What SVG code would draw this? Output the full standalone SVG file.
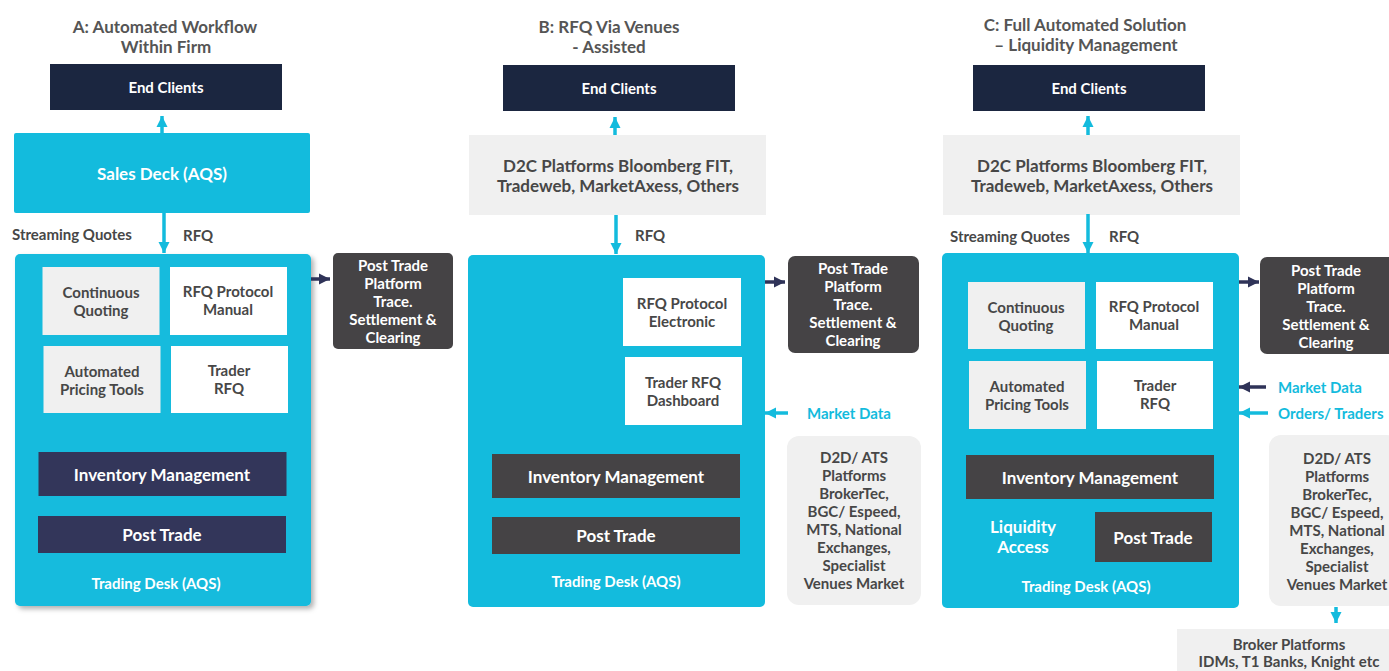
<svg xmlns="http://www.w3.org/2000/svg" width="1389" height="671" viewBox="0 0 1389 671">
<defs>
<style>
text{font-family:Lato,"Open Sans","Liberation Sans",sans-serif;font-weight:700;text-anchor:middle}
.title{font-size:17px;fill:#555555}
.navy{fill:#1b2640}
.cyan{fill:#13bbdd}
.lg{fill:#f0f0f0}
.wh{fill:#ffffff}
.dk{fill:#454345}
.pur{fill:#33365a}
.t14w{font-size:15px;fill:#ffffff}
.t16w{font-size:17px;fill:#ffffff}
.t14d{font-size:15px;fill:#474747}
.t16d{font-size:17px;fill:#474747}
.t14c{font-size:15px;fill:#13bbdd;text-anchor:start}
.lbl{font-size:15px;fill:#474747;text-anchor:start}
.ac{stroke:#13bbdd;stroke-width:3.5;fill:none}
.an{stroke:#2f3358;stroke-width:3.5;fill:none}
</style>
<marker id="hc" viewBox="0 0 10 10" refX="10" refY="5" markerUnits="userSpaceOnUse" markerWidth="11" markerHeight="13" orient="auto"><path d="M0,0 L10,5 L0,10 z" fill="#13bbdd"/></marker>
<marker id="hn" viewBox="0 0 10 10" refX="10" refY="5" markerUnits="userSpaceOnUse" markerWidth="11" markerHeight="13" orient="auto"><path d="M0,0 L10,5 L0,10 z" fill="#2f3358"/></marker>
<filter id="sh" x="-5%" y="-5%" width="115%" height="115%"><feDropShadow dx="3" dy="3" stdDeviation="2.5" flood-color="#000" flood-opacity="0.3"/></filter>
</defs>

<!-- Column titles -->
<g id="titles">
<text class="title" x="165" y="33">A: Automated Workflow</text>
<text class="title" x="166" y="53">Within Firm</text>
<text class="title" x="609" y="33">B: RFQ Via Venues</text>
<text class="title" x="609" y="53">- Assisted</text>
<text class="title" x="1085" y="31">C: Full Automated Solution</text>
<text class="title" x="1086" y="51">– Liquidity Management</text>
</g>

<!-- Column A -->
<g id="a-end-clients"><rect class="navy" x="50" y="64" width="232" height="46"/><text class="t14w" x="166" y="93">End Clients</text></g>
<g id="a-sales-deck"><rect class="cyan" x="14" y="133" width="296" height="80" rx="2"/><text class="t16w" x="162" y="180">Sales Deck (AQS)</text></g>
<g id="a-trading-desk"><rect class="cyan" x="15" y="254" width="296" height="352" rx="5" filter="url(#sh)"/><text class="t14w" x="156" y="589">Trading Desk (AQS)</text></g>
<g id="a-continuous"><rect class="lg" x="42.5" y="267" width="117" height="68"/><text class="t14d" x="101" y="298">Continuous</text><text class="t14d" x="101" y="316">Quoting</text></g>
<g id="a-rfq-manual"><rect class="wh" x="170" y="267" width="117" height="68"/><text class="t14d" x="228" y="297">RFQ Protocol</text><text class="t14d" x="228" y="315">Manual</text></g>
<g id="a-auto-pricing"><rect class="lg" x="43.5" y="346" width="117" height="67"/><text class="t14d" x="102" y="377">Automated</text><text class="t14d" x="102" y="395">Pricing Tools</text></g>
<g id="a-trader-rfq"><rect class="wh" x="171" y="346" width="117" height="67"/><text class="t14d" x="229" y="376">Trader</text><text class="t14d" x="229" y="394">RFQ</text></g>
<g id="a-inventory"><rect class="pur" x="38.5" y="452" width="248" height="44"/><text class="t16w" x="162" y="481">Inventory Management</text></g>
<g id="a-post-trade"><rect class="pur" x="38" y="516" width="248" height="37"/><text class="t16w" x="162" y="541">Post Trade</text></g>
<g id="a-post-platform"><rect class="dk" x="333" y="253" width="120" height="96" rx="5"/>
<text class="t14w" x="393" y="271">Post Trade</text><text class="t14w" x="393" y="289">Platform</text><text class="t14w" x="393" y="307">Trace.</text><text class="t14w" x="393" y="325">Settlement &amp;</text><text class="t14w" x="393" y="343">Clearing</text></g>

<!-- Column B -->
<g id="b-end-clients"><rect class="navy" x="503" y="65" width="232" height="46"/><text class="t14w" x="619" y="94">End Clients</text></g>
<g id="b-d2c"><rect class="lg" x="469" y="135" width="297" height="80"/><text class="t16d" x="618" y="172">D2C Platforms Bloomberg FIT,</text><text class="t16d" x="618" y="192">Tradeweb, MarketAxess, Others</text></g>
<g id="b-trading-desk"><rect class="cyan" x="468" y="255" width="297" height="352" rx="5"/><text class="t14w" x="616" y="587">Trading Desk (AQS)</text></g>
<g id="b-rfq-electronic"><rect class="wh" x="623" y="278" width="118" height="68"/><text class="t14d" x="682" y="309">RFQ Protocol</text><text class="t14d" x="682" y="327">Electronic</text></g>
<g id="b-trader-dashboard"><rect class="wh" x="625" y="357" width="117" height="68"/><text class="t14d" x="683" y="388">Trader RFQ</text><text class="t14d" x="683" y="406">Dashboard</text></g>
<g id="b-inventory"><rect class="dk" x="492" y="454" width="248" height="44"/><text class="t16w" x="616" y="483">Inventory Management</text></g>
<g id="b-post-trade"><rect class="dk" x="492" y="517" width="248" height="37"/><text class="t16w" x="616" y="542">Post Trade</text></g>
<g id="b-post-platform"><rect class="dk" x="788" y="256" width="131" height="97" rx="7"/>
<text class="t14w" x="853" y="274">Post Trade</text><text class="t14w" x="853" y="292">Platform</text><text class="t14w" x="853" y="310">Trace.</text><text class="t14w" x="853" y="328">Settlement &amp;</text><text class="t14w" x="853" y="346">Clearing</text></g>
<g id="b-d2d"><rect class="lg" x="787" y="436" width="134" height="169" rx="12"/>
<text class="t14d" x="854" y="463">D2D/ ATS</text><text class="t14d" x="854" y="481">Platforms</text><text class="t14d" x="854" y="499">BrokerTec,</text><text class="t14d" x="854" y="517">BGC/ Espeed,</text><text class="t14d" x="854" y="535">MTS, National</text><text class="t14d" x="854" y="553">Exchanges,</text><text class="t14d" x="854" y="571">Specialist</text><text class="t14d" x="854" y="589">Venues Market</text></g>

<!-- Column C -->
<g id="c-end-clients"><rect class="navy" x="973" y="65" width="232" height="46"/><text class="t14w" x="1089" y="94">End Clients</text></g>
<g id="c-d2c"><rect class="lg" x="943" y="135" width="297" height="80"/><text class="t16d" x="1092" y="172">D2C Platforms Bloomberg FIT,</text><text class="t16d" x="1092" y="192">Tradeweb, MarketAxess, Others</text></g>
<g id="c-trading-desk"><rect class="cyan" x="942" y="253" width="297" height="355" rx="5"/><text class="t14w" x="1086" y="592">Trading Desk (AQS)</text>
<text class="t16w" x="1023" y="533">Liquidity</text><text class="t16w" x="1023" y="553">Access</text></g>
<g id="c-continuous"><rect class="lg" x="968" y="282" width="117" height="67"/><text class="t14d" x="1026" y="313">Continuous</text><text class="t14d" x="1026" y="331">Quoting</text></g>
<g id="c-rfq-manual"><rect class="wh" x="1096" y="282" width="117" height="67"/><text class="t14d" x="1154" y="312">RFQ Protocol</text><text class="t14d" x="1154" y="330">Manual</text></g>
<g id="c-auto-pricing"><rect class="lg" x="969" y="361" width="117" height="68"/><text class="t14d" x="1027" y="392">Automated</text><text class="t14d" x="1027" y="410">Pricing Tools</text></g>
<g id="c-trader-rfq"><rect class="wh" x="1097" y="361" width="116" height="68"/><text class="t14d" x="1155" y="391">Trader</text><text class="t14d" x="1155" y="409">RFQ</text></g>
<g id="c-inventory"><rect class="dk" x="966" y="455" width="248" height="44"/><text class="t16w" x="1090" y="484">Inventory Management</text></g>
<g id="c-post-trade"><rect class="dk" x="1095" y="512" width="117" height="50"/><text class="t16w" x="1153" y="544">Post Trade</text></g>
<g id="c-post-platform"><rect class="dk" x="1260" y="257" width="135" height="97" rx="7"/>
<text class="t14w" x="1326" y="276">Post Trade</text><text class="t14w" x="1326" y="294">Platform</text><text class="t14w" x="1326" y="312">Trace.</text><text class="t14w" x="1326" y="330">Settlement &amp;</text><text class="t14w" x="1326" y="348">Clearing</text></g>
<g id="c-d2d"><rect class="lg" x="1269" y="435" width="130" height="171" rx="12"/>
<text class="t14d" x="1337" y="464">D2D/ ATS</text><text class="t14d" x="1337" y="482">Platforms</text><text class="t14d" x="1337" y="500">BrokerTec,</text><text class="t14d" x="1337" y="518">BGC/ Espeed,</text><text class="t14d" x="1337" y="536">MTS, National</text><text class="t14d" x="1337" y="554">Exchanges,</text><text class="t14d" x="1337" y="572">Specialist</text><text class="t14d" x="1337" y="590">Venues Market</text></g>
<g id="c-broker"><rect class="lg" x="1177" y="629" width="220" height="50"/><text class="t14d" x="1289" y="650">Broker Platforms</text><text class="t14d" x="1289" y="667">IDMs, T1 Banks, Knight etc</text></g>

<!-- Connectors -->
<g id="connectors">
<line class="ac" x1="162" y1="133" x2="162" y2="116" marker-end="url(#hc)"/>
<line class="ac" x1="164" y1="213" x2="164" y2="253" marker-end="url(#hc)"/>
<line class="an" x1="311" y1="279" x2="330" y2="279" marker-end="url(#hn)"/>
<line class="ac" x1="615" y1="135" x2="615" y2="117" marker-end="url(#hc)"/>
<line class="ac" x1="616" y1="215" x2="616" y2="254" marker-end="url(#hc)"/>
<line class="an" x1="765" y1="282" x2="785" y2="282" marker-end="url(#hn)"/>
<line class="ac" x1="788" y1="413" x2="765" y2="413" marker-end="url(#hc)"/>
<line class="ac" x1="1088" y1="135" x2="1088" y2="116" marker-end="url(#hc)"/>
<line class="ac" x1="1088" y1="214" x2="1088" y2="253" marker-end="url(#hc)"/>
<line class="an" x1="1239" y1="282" x2="1259" y2="282" marker-end="url(#hn)"/>
<line class="an" x1="1266" y1="387" x2="1239" y2="387" marker-end="url(#hn)"/>
<line class="ac" x1="1268" y1="413" x2="1239" y2="413" marker-end="url(#hc)"/>
<line class="ac" x1="1336" y1="607" x2="1336" y2="623" marker-end="url(#hc)"/>
</g>

<!-- Connector labels -->
<g id="labels">
<text class="lbl" x="12" y="240">Streaming Quotes</text>
<text class="lbl" x="183" y="241">RFQ</text>
<text class="lbl" x="635" y="241">RFQ</text>
<text class="t14c" x="807" y="419">Market Data</text>
<text class="lbl" x="950" y="242">Streaming Quotes</text>
<text class="lbl" x="1109" y="242">RFQ</text>
<text class="t14c" x="1278" y="393">Market Data</text>
<text class="t14c" x="1278" y="419">Orders/ Traders</text>
</g>
</svg>
